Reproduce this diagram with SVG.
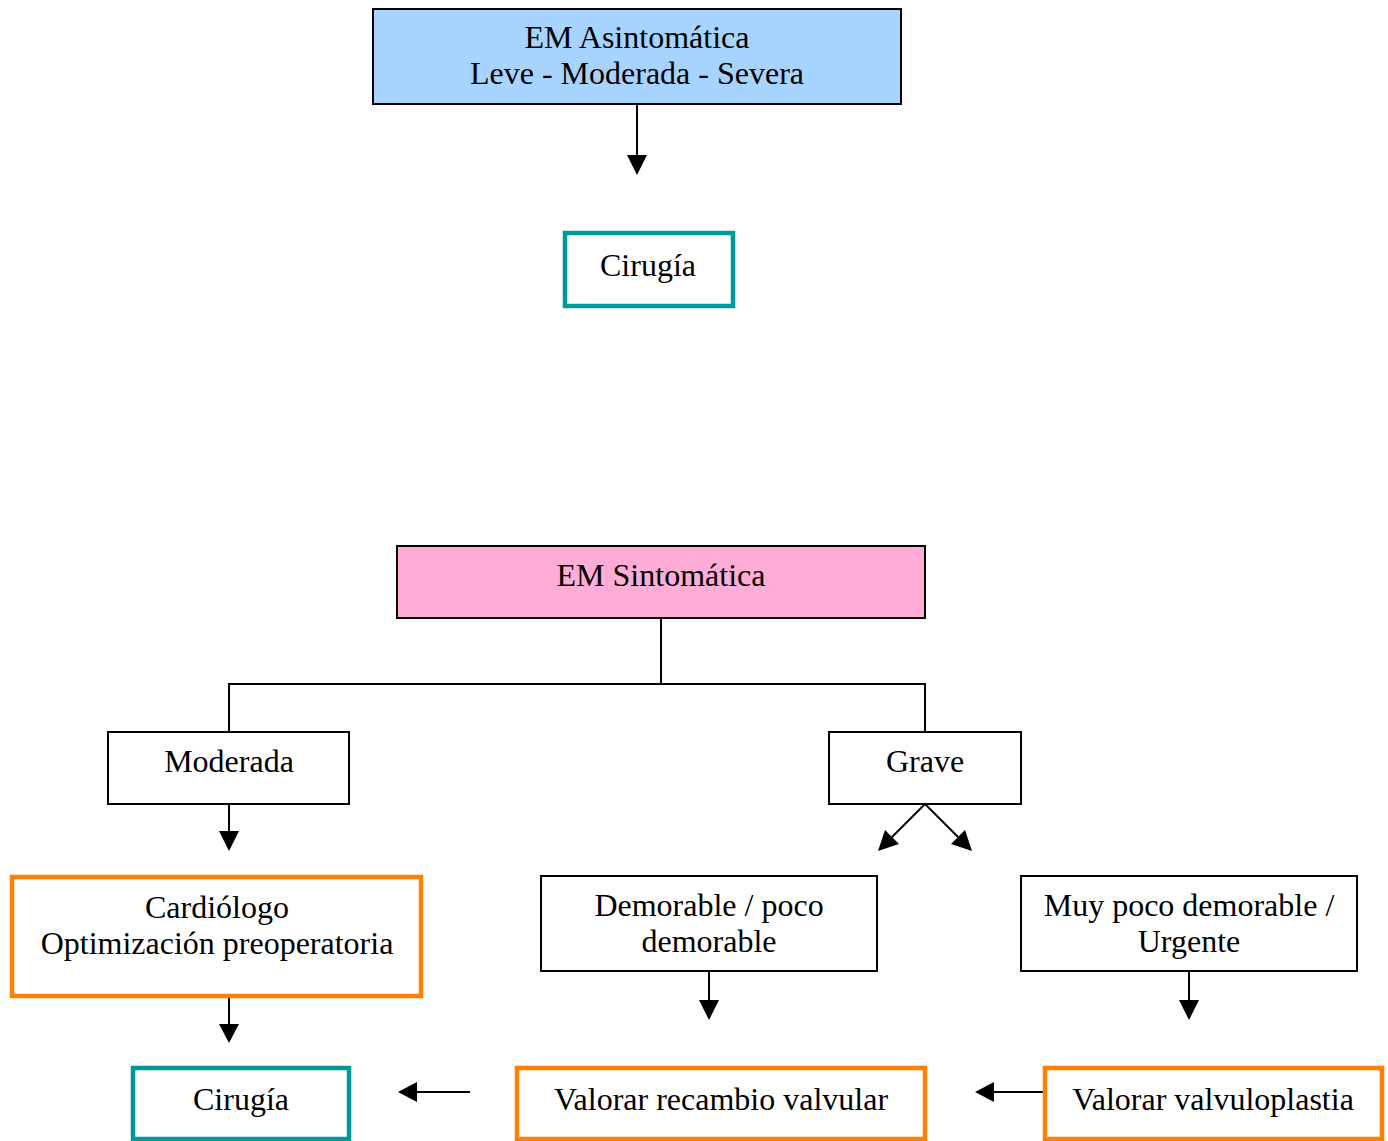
<svg xmlns="http://www.w3.org/2000/svg" width="1388" height="1141" viewBox="0 0 1388 1141">
  <style>
    .lbl { font-family: "Liberation Serif", "Times New Roman", serif; font-size: 32px; fill: #000; text-anchor: middle; }
    .plain { fill: #fff; stroke: #000; stroke-width: 2; }
    .teal { fill: #fff; stroke: #009999; stroke-width: 4.5; }
    .orange { fill: #fff; stroke: #ff8000; stroke-width: 4.5; }
    .conn { fill: none; stroke: #000; stroke-width: 2; }
    .head { fill: #000; }
  </style>

  <!-- connectors -->
  <g id="connectors">
    <line class="conn" x1="637" y1="104" x2="637" y2="156"/>
    <path class="head" d="M627,155 L647,155 L637,175 Z"/>

    <polyline class="conn" points="661,618 661,684 229,684 229,732"/>
    <polyline class="conn" points="661,684 925,684 925,732"/>

    <line class="conn" x1="229" y1="804" x2="229" y2="832"/>
    <path class="head" d="M219,831 L239,831 L229,851 Z"/>

    <line class="conn" x1="925" y1="804" x2="892" y2="837"/>
    <path class="head" d="M878,851 L885,830 L899,844 Z"/>
    <line class="conn" x1="925" y1="804" x2="958" y2="837"/>
    <path class="head" d="M972,851 L965,830 L951,844 Z"/>

    <line class="conn" x1="229" y1="998" x2="229" y2="1025"/>
    <path class="head" d="M219,1024 L239,1024 L229,1043 Z"/>

    <line class="conn" x1="709" y1="971" x2="709" y2="1001"/>
    <path class="head" d="M699,1000 L719,1000 L709,1020 Z"/>

    <line class="conn" x1="1189" y1="971" x2="1189" y2="1001"/>
    <path class="head" d="M1179,1000 L1199,1000 L1189,1020 Z"/>

    <line class="conn" x1="470" y1="1092" x2="416" y2="1092"/>
    <path class="head" d="M417,1082 L417,1102 L398,1092 Z"/>

    <line class="conn" x1="1046" y1="1092" x2="993" y2="1092"/>
    <path class="head" d="M994,1082 L994,1102 L975,1092 Z"/>
  </g>

  <g id="em-asintomatica">
    <rect x="373" y="9" width="528" height="95" fill="#a6d4ff" stroke="#000" stroke-width="2"/>
    <text class="lbl" x="637" y="48">EM Asintomática</text>
    <text class="lbl" x="637" y="84">Leve - Moderada - Severa</text>
  </g>

  <g id="cirugia-top">
    <rect class="teal" x="565" y="233" width="168" height="73"/>
    <text class="lbl" x="648" y="276">Cirugía</text>
  </g>

  <g id="em-sintomatica">
    <rect x="397" y="546" width="528" height="72" fill="#ffacd6" stroke="#000" stroke-width="2"/>
    <text class="lbl" x="661" y="586">EM Sintomática</text>
  </g>

  <g id="moderada">
    <rect class="plain" x="108" y="732" width="241" height="72"/>
    <text class="lbl" x="229" y="772">Moderada</text>
  </g>

  <g id="grave">
    <rect class="plain" x="829" y="732" width="192" height="72"/>
    <text class="lbl" x="925" y="772">Grave</text>
  </g>

  <g id="cardiologo">
    <rect class="orange" x="12" y="877" width="409" height="119"/>
    <text class="lbl" x="217" y="918">Cardiólogo</text>
    <text class="lbl" x="217" y="954">Optimización preoperatoria</text>
  </g>

  <g id="demorable">
    <rect class="plain" x="541" y="876" width="336" height="95"/>
    <text class="lbl" x="709" y="916">Demorable / poco</text>
    <text class="lbl" x="709" y="952">demorable</text>
  </g>

  <g id="muy-poco-demorable">
    <rect class="plain" x="1021" y="876" width="336" height="95"/>
    <text class="lbl" x="1189" y="916">Muy poco demorable /</text>
    <text class="lbl" x="1189" y="952">Urgente</text>
  </g>

  <g id="cirugia-bottom">
    <rect class="teal" x="133" y="1068" width="216" height="71"/>
    <text class="lbl" x="241" y="1110">Cirugía</text>
  </g>

  <g id="valorar-recambio">
    <rect class="orange" x="517" y="1068" width="408" height="71"/>
    <text class="lbl" x="721" y="1110">Valorar recambio valvular</text>
  </g>

  <g id="valorar-valvuloplastia">
    <rect class="orange" x="1045" y="1068" width="337" height="71"/>
    <text class="lbl" x="1213" y="1110">Valorar valvuloplastia</text>
  </g>
</svg>
